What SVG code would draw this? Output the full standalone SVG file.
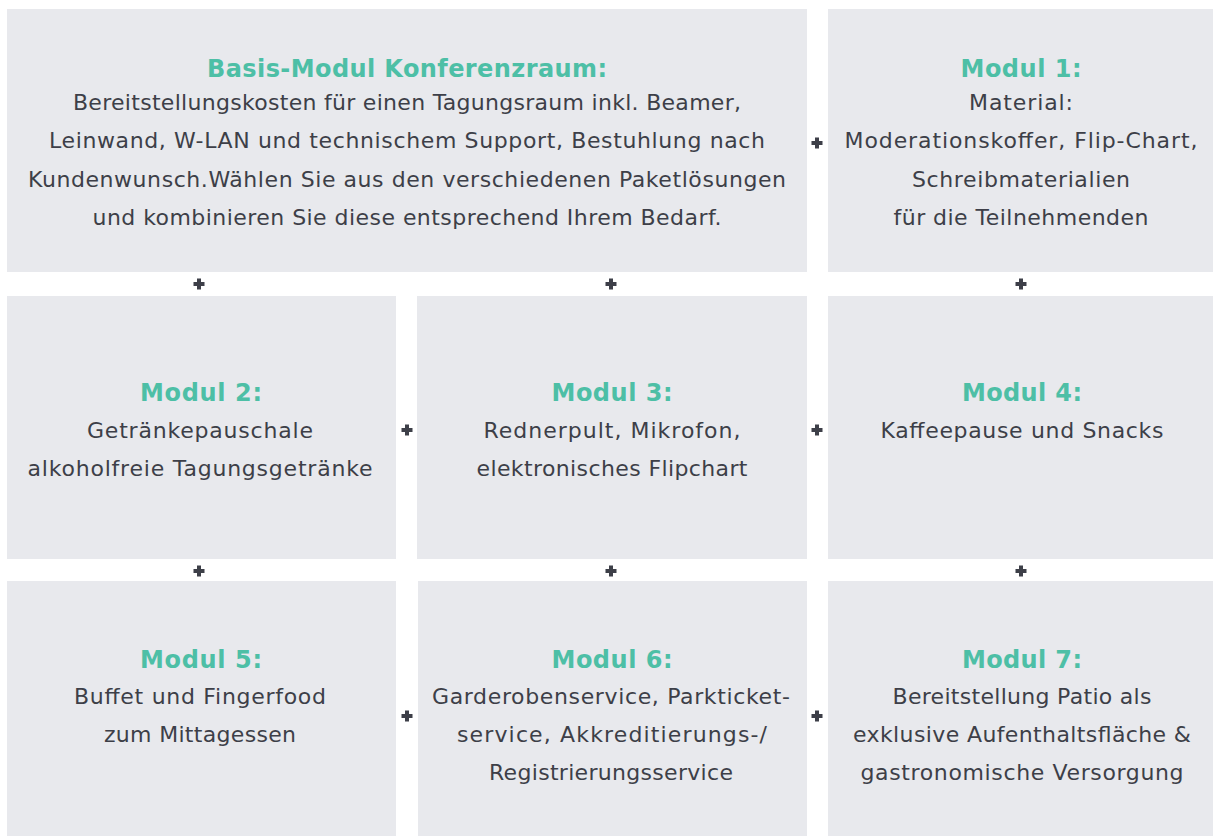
<svg xmlns="http://www.w3.org/2000/svg" width="1213" height="836" viewBox="0 0 1213 836">
<style>
.box{fill:#e8e9ed}
.t{font-family:"DejaVu Sans","Liberation Sans",sans-serif;font-weight:bold;font-size:24px;fill:#4dbfa6;text-anchor:middle}
.b{font-family:"DejaVu Sans","Liberation Sans",sans-serif;font-size:22px;fill:#3d3f48;text-anchor:middle}
.p{fill:#3d3f48}
</style>
<defs>
<path id="plus" d="M-5.5,-2H-2V-5.5H2V-2H5.5V2H2V5.5H-2V2H-5.5Z"/>
</defs>
<rect width="1213" height="836" fill="#ffffff"/>
<g id="basis">
<rect class="box" x="7" y="9" width="800" height="263"/>
<text class="t" x="407" y="77" textLength="400">Basis-Modul Konferenzraum:</text>
<text class="b" x="407" y="110" textLength="668">Bereitstellungskosten für einen Tagungsraum inkl. Beamer,</text>
<text class="b" x="407" y="148" textLength="716">Leinwand, W-LAN und technischem Support, Bestuhlung nach</text>
<text class="b" x="407" y="187" textLength="758">Kundenwunsch.Wählen Sie aus den verschiedenen Paketlösungen</text>
<text class="b" x="407" y="225" textLength="629">und kombinieren Sie diese entsprechend Ihrem Bedarf.</text>
</g>
<g id="modul1">
<rect class="box" x="828" y="9" width="385" height="263"/>
<text class="t" x="1021" y="77" textLength="121">Modul 1:</text>
<text class="b" x="1021" y="110" textLength="104">Material:</text>
<text class="b" x="1021" y="148" textLength="353">Moderationskoffer, Flip-Chart,</text>
<text class="b" x="1021" y="187" textLength="218">Schreibmaterialien</text>
<text class="b" x="1021" y="225" textLength="255">für die Teilnehmenden</text>
</g>
<g id="modul2">
<rect class="box" x="7" y="296" width="389" height="263"/>
<text class="t" x="201" y="401" textLength="122">Modul 2:</text>
<text class="b" x="200" y="438" textLength="226">Getränkepauschale</text>
<text class="b" x="200" y="476" textLength="345">alkoholfreie Tagungsgetränke</text>
</g>
<g id="modul3">
<rect class="box" x="417" y="296" width="390" height="263"/>
<text class="t" x="612" y="401" textLength="121">Modul 3:</text>
<text class="b" x="612" y="438" textLength="257">Rednerpult, Mikrofon,</text>
<text class="b" x="612" y="476" textLength="271">elektronisches Flipchart</text>
</g>
<g id="modul4">
<rect class="box" x="828" y="296" width="385" height="263"/>
<text class="t" x="1022" y="401" textLength="120">Modul 4:</text>
<text class="b" x="1022" y="438" textLength="283">Kaffeepause und Snacks</text>
</g>
<g id="modul5">
<rect class="box" x="7" y="581" width="389" height="255"/>
<text class="t" x="201" y="668" textLength="122">Modul 5:</text>
<text class="b" x="200" y="704" textLength="252">Buffet und Fingerfood</text>
<text class="b" x="200" y="742" textLength="192">zum Mittagessen</text>
</g>
<g id="modul6">
<rect class="box" x="418" y="581" width="389" height="255"/>
<text class="t" x="612" y="668" textLength="121">Modul 6:</text>
<text class="b" x="611" y="704" textLength="358">Garderobenservice, Parkticket-</text>
<text class="b" x="612" y="742" textLength="310">service, Akkreditierungs-/</text>
<text class="b" x="611" y="780" textLength="244">Registrierungsservice</text>
</g>
<g id="modul7">
<rect class="box" x="828" y="581" width="385" height="255"/>
<text class="t" x="1022" y="668" textLength="120">Modul 7:</text>
<text class="b" x="1022" y="704" textLength="259">Bereitstellung Patio als</text>
<text class="b" x="1022" y="742" textLength="338">exklusive Aufenthaltsfläche &amp;</text>
<text class="b" x="1022" y="780" textLength="323">gastronomische Versorgung</text>
</g>
<g id="connectors" class="p">
<use href="#plus" x="199" y="284"/>
<use href="#plus" x="611" y="284"/>
<use href="#plus" x="1021" y="284"/>
<use href="#plus" x="817" y="143"/>
<use href="#plus" x="407" y="430"/>
<use href="#plus" x="817" y="430"/>
<use href="#plus" x="199" y="571"/>
<use href="#plus" x="611" y="571"/>
<use href="#plus" x="1021" y="571"/>
<use href="#plus" x="407" y="716"/>
<use href="#plus" x="817" y="716"/>
</g>
</svg>
